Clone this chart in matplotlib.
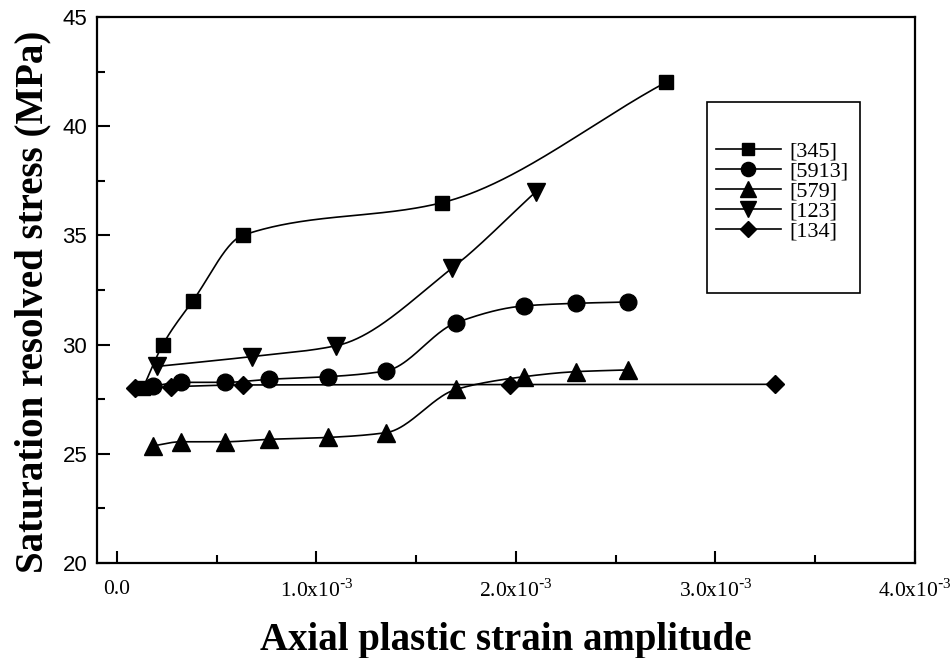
import numpy as np
import matplotlib
matplotlib.use("Agg")
import matplotlib.pyplot as plt
from matplotlib.patches import Rectangle
from matplotlib.ticker import MultipleLocator, FixedLocator, FixedFormatter

# strain amplitudes in units of 1e-3, resolved stress in MPa
x_345 = [0.13, 0.23, 0.38, 0.63, 1.63, 2.75]
y_345 = [28.0, 30.0, 32.0, 35.0, 36.5, 42.0]

x_5913 = [0.18, 0.32, 0.54, 0.76, 1.06, 1.35, 1.70, 2.04, 2.30, 2.56]
y_5913 = [28.1, 28.27, 28.27, 28.41, 28.53, 28.8, 31.0, 31.77, 31.89, 31.95]

x_579 = [0.18, 0.32, 0.54, 0.76, 1.06, 1.35, 1.70, 2.04, 2.30, 2.56]
y_579 = [25.36, 25.55, 25.55, 25.66, 25.75, 25.97, 27.95, 28.53, 28.76, 28.84]

x_123 = [0.20, 0.675, 1.10, 1.68, 2.10]
y_123 = [29.0, 29.45, 29.95, 33.5, 37.0]

x_134 = [0.09, 0.27, 0.63, 1.97, 3.30]
y_134 = [28.0, 28.07, 28.15, 28.17, 28.18]

series = [
    ("[345]", x_345, y_345, "s", 10),
    ("[5913]", x_5913, y_5913, "o", 12),
    ("[579]", x_579, y_579, "^", 13),
    ("[123]", x_123, y_123, "v", 13),
    ("[134]", x_134, y_134, "D", 9),
]

x_ticks = [0.0, 1.0, 2.0, 3.0, 4.0]
x_tick_labels = ["0.0", r"1.0x10$^{\mathregular{\text{-}3}}$", r"2.0x10$^{\mathregular{\text{-}3}}$",
                 r"3.0x10$^{\mathregular{\text{-}3}}$", r"4.0x10$^{\mathregular{\text{-}3}}$"]


def pchip(x, y, xs):
    # monotone cubic through the points, used only to draw the smooth connector
    x = np.asarray(x, float)
    y = np.asarray(y, float)
    h = np.diff(x)
    d = np.diff(y) / h
    n = len(x)
    m = np.zeros(n)
    m[0], m[-1] = d[0], d[-1]
    for k in range(1, n - 1):
        if d[k - 1] * d[k] > 0:
            w1 = 2 * h[k] + h[k - 1]
            w2 = h[k] + 2 * h[k - 1]
            m[k] = (w1 + w2) / (w1 / d[k - 1] + w2 / d[k])
    idx = np.clip(np.searchsorted(x, xs) - 1, 0, n - 2)
    t = (xs - x[idx]) / h[idx]
    h00 = 2 * t ** 3 - 3 * t ** 2 + 1
    h10 = t ** 3 - 2 * t ** 2 + t
    h01 = -2 * t ** 3 + 3 * t ** 2
    h11 = t ** 3 - t ** 2
    return h00 * y[idx] + h10 * h[idx] * m[idx] + h01 * y[idx + 1] + h11 * h[idx] * m[idx + 1]


fig = plt.figure(figsize=(9.52, 6.58), dpi=100)
ax = fig.add_axes([0.1019, 0.1444, 0.8592, 0.8298])

handles = []
for label, xs, ys, mk, ms in series:
    xf = np.linspace(xs[0], xs[-1], 300)
    ax.plot(xf, pchip(xs, ys, xf), color="black", lw=1.2)
    ax.plot(xs, ys, linestyle="none", marker=mk, ms=ms, color="black")
    h, = ax.plot([], [], color="black", lw=1.2, marker=mk, ms=ms * 0.85)
    handles.append((h, label))

ax.set_xlim(-0.1, 4.0)
ax.set_ylim(20, 45)

ax.xaxis.set_major_locator(FixedLocator(x_ticks))
ax.xaxis.set_major_formatter(FixedFormatter(x_tick_labels))
ax.xaxis.set_minor_locator(MultipleLocator(0.5))
ax.yaxis.set_major_locator(MultipleLocator(5))
ax.yaxis.set_minor_locator(MultipleLocator(2.5))

ax.tick_params(which="both", direction="in", top=False, right=False, width=1.5)
ax.tick_params(which="major", length=9)
ax.tick_params(which="minor", length=6)
ax.tick_params(axis="x", pad=12)
ax.tick_params(axis="y", pad=7)
for t in ax.get_xticklabels():
    t.set_fontfamily("Liberation Serif")
    t.set_fontsize(15.5)
for t in ax.get_yticklabels():
    t.set_fontfamily("Liberation Sans")
    t.set_fontsize(16)
for s in ax.spines.values():
    s.set_linewidth(1.6)

ax.set_xlabel("Axial plastic strain amplitude", fontfamily="Liberation Serif",
              fontweight="bold", fontsize=28)
ax.set_ylabel("Saturation resolved stress (MPa)", fontfamily="Liberation Serif",
              fontweight="bold", fontsize=28)
ax.xaxis.set_label_coords(0.5, -0.108)
ax.yaxis.set_label_coords(-0.056, 0.478)

ax.add_patch(Rectangle((0.7457, 0.4945), 0.1871, 0.3498, transform=ax.transAxes,
                       fill=False, edgecolor="black", lw=1.2, zorder=5))
ax.legend([h for h, _ in handles], [l for _, l in handles], loc="upper left",
          bbox_to_anchor=(0.757, 0.773), frameon=False, borderpad=0, borderaxespad=0,
          handlelength=2.9, handletextpad=0.4, labelspacing=-0.02,
          prop={"family": "Liberation Serif", "size": 16})

fig.savefig("out.png", dpi=100, facecolor="white")
